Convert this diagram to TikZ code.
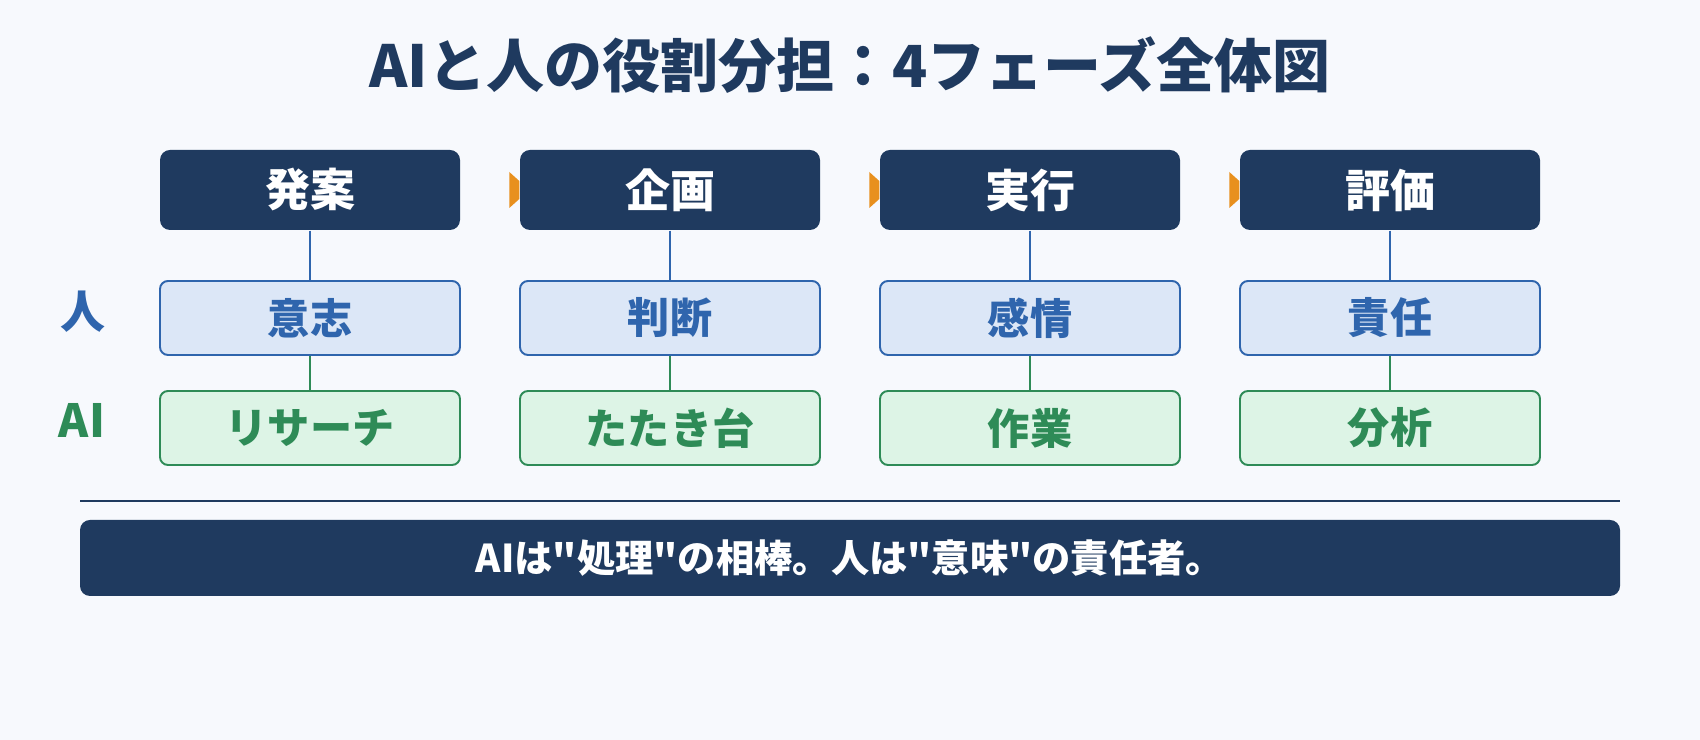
\documentclass[tikz,border=0pt]{standalone}
\usepackage{fontspec}
\setmainfont{Noto Sans CJK JP}[Ligatures=TeXOff]
\usepackage{tikz}
\usetikzlibrary{shapes,arrows}
\definecolor{bnavy}{HTML}{1F3A5F}
\definecolor{bblue}{HTML}{2F65AD}
\definecolor{bbluefill}{HTML}{DCE7F7}
\definecolor{bgreen}{HTML}{2E8B57}
\definecolor{bgreenfill}{HTML}{DDF4E6}
\definecolor{borange}{HTML}{E8901E}
\definecolor{bpaper}{HTML}{F7F9FD}
\tikzstyle{phase} = [rectangle, fill=bnavy, text=white, minimum width=3cm, minimum height=0.8cm, inner sep=0, rounded corners=0.1cm, font=\fontsize{12.8}{14}\selectfont\bfseries]
\tikzstyle{human} = [rectangle, draw=bblue, line width=0.55pt, fill=bbluefill, text=bblue, minimum width=3cm, minimum height=0.74cm, inner sep=0, rounded corners=0.08cm, font=\fontsize{12}{14}\selectfont\bfseries]
\tikzstyle{machine} = [rectangle, draw=bgreen, line width=0.55pt, fill=bgreenfill, text=bgreen, minimum width=3cm, minimum height=0.74cm, inner sep=0, rounded corners=0.08cm, font=\fontsize{12}{14}\selectfont\bfseries]
\tikzstyle{bluelink} = [draw, bblue, line width=0.45pt]
\tikzstyle{greenlink} = [draw, bgreen, line width=0.45pt]
\tikzstyle{chevron} = [fill=borange]

\begin{document}
\begin{tikzpicture}
%% background
\fill[bpaper] (0, 0) rectangle (17, 7.4);

%% title
\node[bnavy, font=\fontsize{16.5}{18}\selectfont\bfseries] at (8.5, 6.75) (title) {AIと人の役割分担：4フェーズ全体図};

%% row labels
\node[bblue, font=\fontsize{12.8}{14}\selectfont\bfseries] at (0.83, 4.28) (humanlabel) {人};
\node[bgreen, font=\fontsize{13}{14}\selectfont\bfseries] at (0.82, 3.2) (ailabel) {AI};

%% phases
\node[phase] at (3.1, 5.5) (hatsuan) {発案};
\node[phase] at (6.7, 5.5) (kikaku) {企画};
\node[phase] at (10.3, 5.5) (jikko) {実行};
\node[phase] at (13.9, 5.5) (hyoka) {評価};

\fill[chevron] ([shift={(-0.1,0.18)}]kikaku.west) -- ([shift={(0,0.09)}]kikaku.west) -- ([shift={(0,-0.09)}]kikaku.west) -- ([shift={(-0.1,-0.18)}]kikaku.west) -- cycle;
\fill[chevron] ([shift={(-0.1,0.18)}]jikko.west) -- ([shift={(0,0.09)}]jikko.west) -- ([shift={(0,-0.09)}]jikko.west) -- ([shift={(-0.1,-0.18)}]jikko.west) -- cycle;
\fill[chevron] ([shift={(-0.1,0.18)}]hyoka.west) -- ([shift={(0,0.09)}]hyoka.west) -- ([shift={(0,-0.09)}]hyoka.west) -- ([shift={(-0.1,-0.18)}]hyoka.west) -- cycle;

%% human side
\node[human] at (3.1, 4.22) (ishi) {意志};
\node[human] at (6.7, 4.22) (handan) {判断};
\node[human] at (10.3, 4.22) (kanjo) {感情};
\node[human] at (13.9, 4.22) (sekinin) {責任};
\path[bluelink] (hatsuan.south) -- (ishi.north);
\path[bluelink] (kikaku.south) -- (handan.north);
\path[bluelink] (jikko.south) -- (kanjo.north);
\path[bluelink] (hyoka.south) -- (sekinin.north);

%% AI side
\node[machine] at (3.1, 3.12) (research) {リサーチ};
\node[machine] at (6.7, 3.12) (tatakidai) {たたき台};
\node[machine] at (10.3, 3.12) (sagyo) {作業};
\node[machine] at (13.9, 3.12) (bunseki) {分析};
\path[greenlink] (ishi.south) -- (research.north);
\path[greenlink] (handan.south) -- (tatakidai.north);
\path[greenlink] (kanjo.south) -- (sagyo.north);
\path[greenlink] (sekinin.south) -- (bunseki.north);

%% summary
\coordinate (ruleleft) at (0.8, 2.39);
\coordinate (ruleright) at (16.2, 2.39);
\draw[bnavy, line width=0.6pt] (ruleleft) -- (ruleright);
\node[fill=bnavy, text=white, minimum width=15.4cm, minimum height=0.76cm, inner sep=0, rounded corners=0.1cm, font=\fontsize{10.9}{12}\selectfont\bfseries] at (8.5, 1.82) (summary) {AIは"処理"の相棒。人は"意味"の責任者。};

\end{tikzpicture}
\end{document}
